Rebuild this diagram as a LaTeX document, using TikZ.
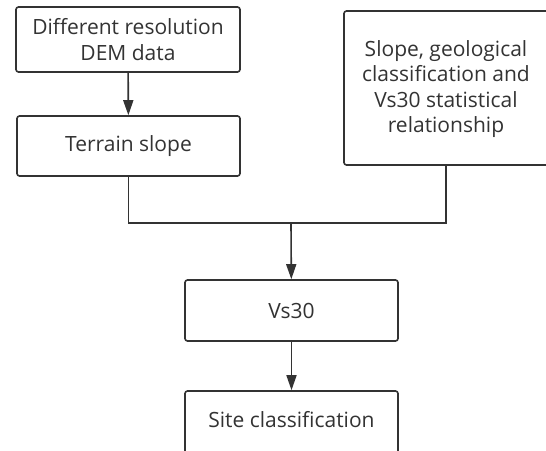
\documentclass[tikz,border=0pt]{standalone}
\usepackage{fontspec}
\setmainfont{Open Sans}
\usetikzlibrary{arrows.meta}
\definecolor{ln}{HTML}{333333}
\begin{document}
\begin{tikzpicture}[x=1pt,y=-1pt,
  txt/.style={font=\fontsize{21}{25.5}\selectfont,text=ln,align=center},
  box/.style={draw=ln,line width=1.6pt,rounded corners=2.5pt,txt,inner sep=0pt},
  conn/.style={draw=ln,line width=1.6pt},
  arr/.style={conn,-{Triangle[length=15pt,width=10pt]}}]
\useasboundingbox (0,0) rectangle (546,450);
\clip (0,0) rectangle (546,450);
\fill[white] (0,0) rectangle (546,450);
\node[box,minimum width=224pt,minimum height=65pt] (dem) at (128,39.5) {Different resolution\\DEM data};
\node[box,minimum width=223pt,minimum height=60pt] (slope) at (128.5,146) {Terrain slope};
\node[box,minimum width=210pt,minimum height=154pt] (rel) at (449,88) {};
\node[txt] (reltxt) at (446,89) {Slope, geological\\classification and\\Vs30 statistical\\relationship};
\node[box,minimum width=213pt,minimum height=61pt] (vs) at (291.5,310.5) {Vs30};
\node[box,minimum width=213pt,minimum height=70pt] (site) at (291.5,426) {};
\node[txt] (sitetxt) at (291.5,420) {Site classification};
\coordinate (j) at (291,223);
\draw[arr] (dem) -- (slope);
\draw[conn] (slope.south) |- (j) -| (446,165);
\draw[arr] (j) -- (vs);
\draw[arr] (vs) -- (site);
\end{tikzpicture}
\end{document}
